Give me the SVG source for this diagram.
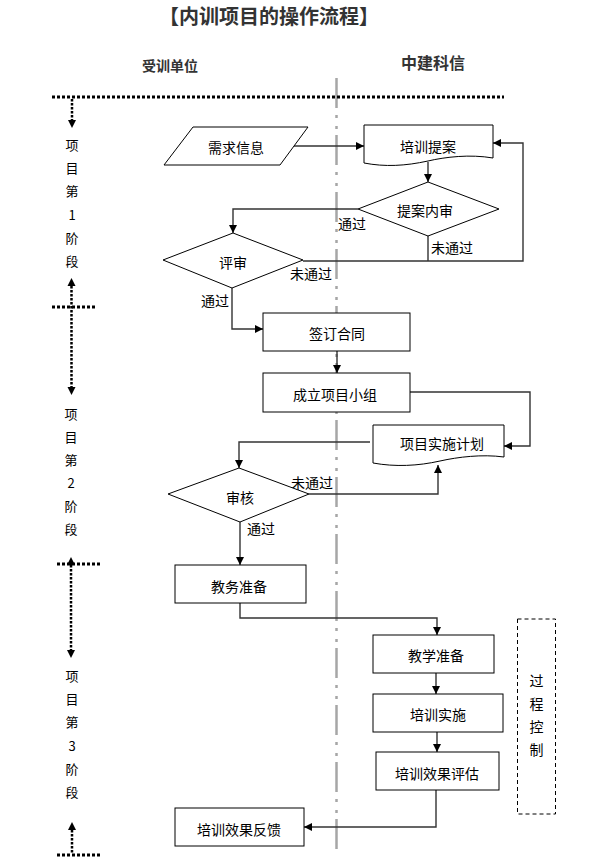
<svg xmlns="http://www.w3.org/2000/svg" width="597" height="867" viewBox="0 0 597 867">
<defs>
<style>
.t{font-family:"Noto Sans CJK SC","Liberation Sans",sans-serif;font-size:14px;fill:#000;text-anchor:middle;dominant-baseline:central}
.s{font-family:"Noto Sans CJK SC","Liberation Sans",sans-serif;font-size:13px;fill:#000;text-anchor:middle;dominant-baseline:central}
.h{font-family:"Noto Sans CJK SC","Liberation Sans",sans-serif;font-weight:bold;fill:#333;text-anchor:middle;dominant-baseline:central}
.box{fill:#fff;stroke:#000;stroke-width:1}
.c{fill:none;stroke:#333;stroke-width:1.4}
.dot{fill:none;stroke:#000;stroke-width:3;stroke-dasharray:3 2}
.vdot{fill:none;stroke:#000;stroke-width:2.5;stroke-dasharray:2.5 1.5}
</style>
<marker id="a" viewBox="0 0 10 10" refX="10" refY="5" markerWidth="8" markerHeight="8" markerUnits="userSpaceOnUse" orient="auto">
<path d="M0,0 L10,5 L0,10 Z" fill="#000"/>
</marker>
</defs>
<rect width="597" height="867" fill="#fff"/>

<text class="h" x="269" y="15" style="font-size:20px">【内训项目的操作流程】</text>
<text class="h" x="170" y="65" style="font-size:14px">受训单位</text>
<text class="h" x="433" y="62" style="font-size:16px">中建科信</text>

<!-- lane divider -->
<line x1="336.5" y1="78" x2="336.5" y2="856" stroke="#a6a6a6" stroke-width="2.5" stroke-dasharray="30 7 3 8 3 6"/>

<!-- stage separators and arrows -->
<g id="stages">
<line class="dot" x1="52" y1="97" x2="504" y2="97"/>
<line class="dot" x1="52" y1="307" x2="96" y2="307"/>
<line class="dot" x1="57" y1="564" x2="102" y2="564"/>
<line class="dot" x1="57" y1="855" x2="102" y2="855"/>
<line class="vdot" x1="72" y1="99" x2="72" y2="121"/>
<path d="M68,120 L76,120 L72,128 Z"/>
<path d="M67.5,286 L75.5,286 L71.5,278 Z"/>
<line class="vdot" x1="71.5" y1="286" x2="71.5" y2="388"/>
<path d="M67.5,387 L75.5,387 L71.5,395 Z"/>
<path d="M67,565 L75,565 L71,557 Z"/>
<line class="vdot" x1="71" y1="565" x2="71" y2="651"/>
<path d="M67,650 L75,650 L71,658 Z"/>
<path d="M68,830 L76,830 L72,822 Z"/>
<line class="vdot" x1="72" y1="830" x2="72" y2="853"/>
<text class="s" x="72" y="144">项</text>
<text class="s" x="72" y="167">目</text>
<text class="s" x="72" y="190.5">第</text>
<text class="s" x="72" y="214">1</text>
<text class="s" x="72" y="237">阶</text>
<text class="s" x="72" y="260.5">段</text>
<text class="s" x="71" y="413">项</text>
<text class="s" x="71" y="436">目</text>
<text class="s" x="71" y="459">第</text>
<text class="s" x="71" y="482">2</text>
<text class="s" x="71" y="505">阶</text>
<text class="s" x="71" y="528">段</text>
<text class="s" x="72" y="675">项</text>
<text class="s" x="72" y="698">目</text>
<text class="s" x="72" y="721.5">第</text>
<text class="s" x="72" y="745">3</text>
<text class="s" x="72" y="768">阶</text>
<text class="s" x="72" y="791.5">段</text>
</g>

<!-- connectors -->
<g id="connectors">
<line class="c" x1="294" y1="146" x2="364" y2="146" marker-end="url(#a)"/>
<line class="c" x1="428" y1="162" x2="428" y2="182" marker-end="url(#a)"/>
<polyline class="c" points="358,209 233,209 233,233" marker-end="url(#a)"/>
<polyline class="c" points="428,236 428,261"/>
<polyline class="c" points="303,261 523,261 523,143 493,143" marker-end="url(#a)"/>
<polyline class="c" points="232,288 232,329 263,329" marker-end="url(#a)"/>
<line class="c" x1="337" y1="351" x2="337" y2="373" marker-end="url(#a)"/>
<polyline class="c" points="410,392 530,392 530,446 504,446" marker-end="url(#a)"/>
<polyline class="c" points="370,442 239,442 239,468" marker-end="url(#a)"/>
<polyline class="c" points="309,494 438,494 438,465" marker-end="url(#a)"/>
<line class="c" x1="240" y1="522" x2="240" y2="565" marker-end="url(#a)"/>
<polyline class="c" points="240,603 240,618 437,618 437,635" marker-end="url(#a)"/>
<line class="c" x1="436" y1="673" x2="436" y2="694" marker-end="url(#a)"/>
<line class="c" x1="437" y1="732" x2="437" y2="752" marker-end="url(#a)"/>
<polyline class="c" points="436,790 436,827 304,827" marker-end="url(#a)"/>
<text class="t" x="352" y="223">通过</text>
<text class="t" x="452" y="247">未通过</text>
<text class="t" x="311" y="273">未通过</text>
<text class="t" x="215" y="300">通过</text>
<text class="t" x="312" y="482">未通过</text>
<text class="t" x="261" y="528">通过</text>
</g>

<g id="n-xuqiu">
<path class="box" d="M193,127 L308,127 L280,165 L164,165 Z"/>
<text class="t" x="236" y="147">需求信息</text>
</g>
<g id="n-tian">
<path class="box" d="M364,125 H493 V158 C470,154 445,157 428,161 C405,166 385,167 364,163 Z"/>
<text class="t" x="428" y="146">培训提案</text>
</g>
<g id="n-neishen">
<path class="box" d="M428,182 L499,209 L428,236 L358,209 Z"/>
<text class="t" x="425" y="210">提案内审</text>
</g>
<g id="n-pingshen">
<path class="box" d="M233,233 L303,260 L232,288 L163,260 Z"/>
<text class="t" x="233" y="262">评审</text>
</g>
<g id="n-qianding">
<rect class="box" x="263" y="313" width="147" height="38"/>
<text class="t" x="337" y="333">签订合同</text>
</g>
<g id="n-chengli">
<rect class="box" x="263" y="373" width="147" height="39"/>
<text class="t" x="335" y="394">成立项目小组</text>
</g>
<g id="n-jihua">
<path class="box" d="M373,425 H504 V457 C482,454 458,457 440,461 C418,466 395,467 373,463 Z"/>
<text class="t" x="442" y="443">项目实施计划</text>
</g>
<g id="n-shenhe">
<path class="box" d="M239,468 L309,494 L240,522 L168,494 Z"/>
<text class="t" x="240" y="497">审核</text>
</g>
<g id="n-jiaowu">
<rect class="box" x="175" y="565" width="131" height="38"/>
<text class="t" x="239" y="586">教务准备</text>
</g>
<g id="n-jiaoxue">
<rect class="box" x="373" y="635" width="121" height="38"/>
<text class="t" x="436" y="655">教学准备</text>
</g>
<g id="n-shishi">
<rect class="box" x="373" y="694" width="130" height="38"/>
<text class="t" x="438" y="714">培训实施</text>
</g>
<g id="n-pinggu">
<rect class="box" x="376" y="752" width="123" height="38"/>
<text class="t" x="437" y="773">培训效果评估</text>
</g>
<g id="n-fankui">
<rect class="box" x="175" y="808" width="129" height="38"/>
<text class="t" x="239" y="829">培训效果反馈</text>
</g>
<g id="n-guocheng">
<rect x="517.5" y="619" width="38" height="195" fill="none" stroke="#000" stroke-width="1" stroke-dasharray="4 3"/>
<text class="t" x="536.5" y="680">过</text>
<text class="t" x="536.5" y="703">程</text>
<text class="t" x="536.5" y="726">控</text>
<text class="t" x="536.5" y="749">制</text>
</g>
</svg>
